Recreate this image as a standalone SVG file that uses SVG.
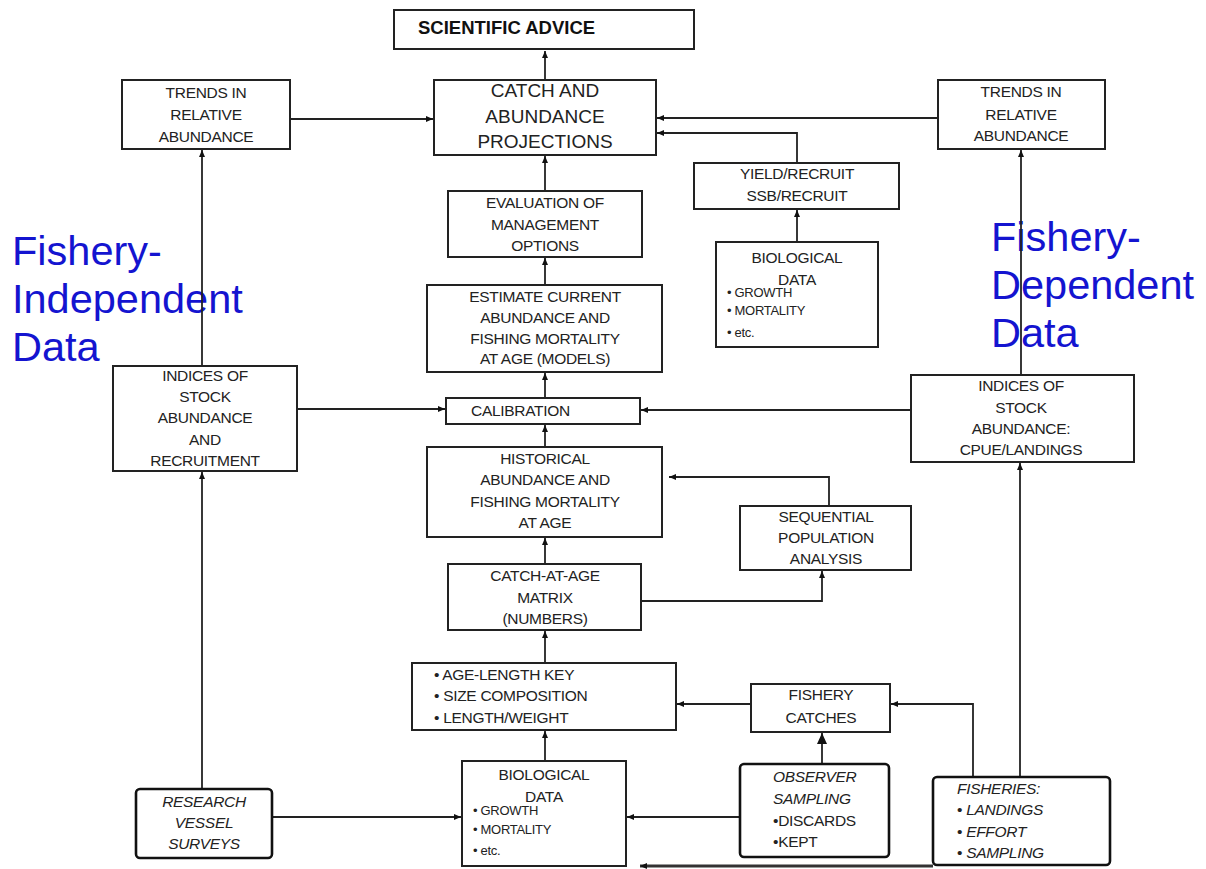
<svg xmlns="http://www.w3.org/2000/svg" width="1206" height="869" viewBox="0 0 1206 869">
<defs>
<style>
.box{fill:#fff;stroke:#222;stroke-width:2}
.rbox{fill:#fff;stroke:#111;stroke-width:2.6}
.t{font-family:"Liberation Sans",Arial,sans-serif;font-size:15.5px;fill:#222;text-anchor:middle;letter-spacing:-0.3px}
.tl{font-family:"Liberation Sans",Arial,sans-serif;font-size:15.5px;fill:#222;letter-spacing:-0.3px}
.big{font-family:"Liberation Sans",Arial,sans-serif;font-size:19px;fill:#222;text-anchor:middle}
.sm{font-family:"Liberation Sans",Arial,sans-serif;font-size:13px;fill:#222;letter-spacing:-0.3px}
.it{font-style:italic}
.blue{font-family:"Liberation Sans",Arial,sans-serif;font-size:41.5px;fill:#1414d0}
.c{fill:none;stroke:#222;stroke-width:1.8}
</style>
<marker id="a" markerUnits="userSpaceOnUse" markerWidth="7" markerHeight="6" refX="7" refY="3" orient="auto"><path d="M0,0 L7,3 L0,6 z" fill="#111"/></marker>
<marker id="ab" markerUnits="userSpaceOnUse" markerWidth="11" markerHeight="10" refX="11" refY="5" orient="auto"><path d="M0,0 L11,5 L0,10 z" fill="#111"/></marker>
</defs>
<rect width="1206" height="869" fill="#fff"/>

<g id="labels">
<text class="blue" x="12" y="265">Fishery-</text>
<text class="blue" x="12" y="313">Independent</text>
<text class="blue" x="12" y="361">Data</text>
<text class="blue" x="991" y="251">Fishery-</text>
<text class="blue" x="991" y="299">Dependent</text>
<text class="blue" x="991" y="347">Data</text>
</g>

<g id="connectors">
<path class="c" d="M545,80 V51" marker-end="url(#a)"/>
<path class="c" d="M290,119 H433" marker-end="url(#a)"/>
<path class="c" d="M938,118 H657" marker-end="url(#a)"/>
<path class="c" d="M797,163 V133 H657" marker-end="url(#a)"/>
<path class="c" d="M797,242 V210" marker-end="url(#a)"/>
<path class="c" d="M545,191 V156" marker-end="url(#a)"/>
<path class="c" d="M545,285 V258" marker-end="url(#a)"/>
<path class="c" d="M545,398 V373" marker-end="url(#a)"/>
<path class="c" d="M545,447 V425" marker-end="url(#a)"/>
<path class="c" d="M545,564 V538" marker-end="url(#a)"/>
<path class="c" d="M545,663 V631" marker-end="url(#a)"/>
<path class="c" d="M545,761 V731" marker-end="url(#a)"/>
<path class="c" d="M641,601 H822 V571" marker-end="url(#a)"/>
<path class="c" d="M829,506 V477 H669" marker-end="url(#a)"/>
<path class="c" d="M202,366 V150" marker-end="url(#a)"/>
<path class="c" d="M297,409 H445" marker-end="url(#a)"/>
<path class="c" d="M911,410 H641" marker-end="url(#a)"/>
<path class="c" d="M1021,375 V150" marker-end="url(#a)"/>
<path class="c" d="M202,789 V472" marker-end="url(#a)"/>
<path class="c" d="M272,817 H461" marker-end="url(#a)"/>
<path class="c" d="M740,817 H627" marker-end="url(#a)"/>
<path class="c" d="M822,764 V733" marker-end="url(#ab)"/>
<path class="c" d="M751,704 H677" marker-end="url(#a)"/>
<path class="c" d="M973,777 V704 H891" marker-end="url(#a)"/>
<path class="c" d="M1020,777 V463" marker-end="url(#a)"/>
<path class="c" d="M933,866 H640" style="stroke:#333;stroke-width:3" marker-end="url(#a)"/>
</g>

<g id="scientific-advice">
<rect class="box" x="394" y="10" width="300" height="39"/>
<text x="418" y="34" style="font-family:'Liberation Sans',Arial,sans-serif;font-size:18.5px;font-weight:bold;fill:#111">SCIENTIFIC ADVICE</text>
</g>

<g id="catch-projections">
<rect class="box" x="434" y="80" width="222" height="75"/>
<text class="big" x="545" y="97">CATCH AND</text>
<text class="big" x="545" y="123">ABUNDANCE</text>
<text class="big" x="545" y="148">PROJECTIONS</text>
</g>

<g id="trends-left">
<rect class="box" x="122" y="80" width="168" height="69"/>
<text class="t" x="206" y="98">TRENDS IN</text>
<text class="t" x="206" y="120">RELATIVE</text>
<text class="t" x="206" y="142">ABUNDANCE</text>
</g>

<g id="trends-right">
<rect class="box" x="938" y="80" width="167" height="69"/>
<text class="t" x="1021" y="97">TRENDS IN</text>
<text class="t" x="1021" y="120">RELATIVE</text>
<text class="t" x="1021" y="141">ABUNDANCE</text>
</g>

<g id="evaluation">
<rect class="box" x="448" y="191" width="194" height="66"/>
<text class="t" x="545" y="208">EVALUATION OF</text>
<text class="t" x="545" y="230">MANAGEMENT</text>
<text class="t" x="545" y="251">OPTIONS</text>
</g>

<g id="yield-recruit">
<rect class="box" x="694" y="163" width="205" height="46"/>
<text class="t" x="797" y="179">YIELD/RECRUIT</text>
<text class="t" x="797" y="201">SSB/RECRUIT</text>
</g>

<g id="biological-top">
<rect class="box" x="716" y="242" width="162" height="105"/>
<text class="t" x="797" y="263">BIOLOGICAL</text>
<text class="t" x="797" y="285">DATA</text>
<text class="sm" x="727" y="297">• GROWTH</text>
<text class="sm" x="727" y="315">• MORTALITY</text>
<text class="sm" x="727" y="337">• etc.</text>
</g>

<g id="estimate-current">
<rect class="box" x="427" y="285" width="235" height="87"/>
<text class="t" x="545" y="302">ESTIMATE CURRENT</text>
<text class="t" x="545" y="323">ABUNDANCE AND</text>
<text class="t" x="545" y="344">FISHING MORTALITY</text>
<text class="t" x="545" y="364">AT AGE (MODELS)</text>
</g>

<g id="indices-left">
<rect class="box" x="113" y="366" width="184" height="105"/>
<text class="t" x="205" y="381">INDICES OF</text>
<text class="t" x="205" y="402">STOCK</text>
<text class="t" x="205" y="423">ABUNDANCE</text>
<text class="t" x="205" y="445">AND</text>
<text class="t" x="205" y="466">RECRUITMENT</text>
</g>

<g id="calibration">
<rect class="box" x="446" y="398" width="194" height="26"/>
<text class="tl" x="471" y="416">CALIBRATION</text>
</g>

<g id="indices-right">
<rect class="box" x="911" y="375" width="223" height="87"/>
<text class="t" x="1021" y="391">INDICES OF</text>
<text class="t" x="1021" y="413">STOCK</text>
<text class="t" x="1021" y="434">ABUNDANCE:</text>
<text class="t" x="1021" y="455">CPUE/LANDINGS</text>
</g>

<g id="historical">
<rect class="box" x="427" y="447" width="235" height="90"/>
<text class="t" x="545" y="464">HISTORICAL</text>
<text class="t" x="545" y="485">ABUNDANCE AND</text>
<text class="t" x="545" y="507">FISHING MORTALITY</text>
<text class="t" x="545" y="528">AT AGE</text>
</g>

<g id="sequential">
<rect class="box" x="740" y="506" width="171" height="64"/>
<text class="t" x="826" y="522">SEQUENTIAL</text>
<text class="t" x="826" y="543">POPULATION</text>
<text class="t" x="826" y="564">ANALYSIS</text>
</g>

<g id="catch-at-age">
<rect class="box" x="448" y="564" width="193" height="66"/>
<text class="t" x="545" y="581">CATCH-AT-AGE</text>
<text class="t" x="545" y="603">MATRIX</text>
<text class="t" x="545" y="624">(NUMBERS)</text>
</g>

<g id="age-length">
<rect class="box" x="412" y="663" width="264" height="67"/>
<text class="tl" x="434" y="680">• AGE-LENGTH KEY</text>
<text class="tl" x="434" y="701">• SIZE COMPOSITION</text>
<text class="tl" x="434" y="723">• LENGTH/WEIGHT</text>
</g>

<g id="fishery-catches">
<rect class="box" x="751" y="684" width="139" height="48"/>
<text class="t" x="821" y="700">FISHERY</text>
<text class="t" x="821" y="723">CATCHES</text>
</g>

<g id="biological-bottom">
<rect class="box" x="462" y="761" width="164" height="105"/>
<text class="t" x="544" y="780">BIOLOGICAL</text>
<text class="t" x="544" y="802">DATA</text>
<text class="sm" x="473" y="815">• GROWTH</text>
<text class="sm" x="473" y="834">• MORTALITY</text>
<text class="sm" x="473" y="855">• etc.</text>
</g>

<g id="research-vessel">
<rect class="rbox" x="136" y="789" width="136" height="69" rx="4"/>
<text class="t it" x="204" y="807">RESEARCH</text>
<text class="t it" x="204" y="828">VESSEL</text>
<text class="t it" x="204" y="849">SURVEYS</text>
</g>

<g id="observer">
<rect class="rbox" x="740" y="764" width="149" height="93" rx="4"/>
<text class="tl it" x="773" y="782">OBSERVER</text>
<text class="tl it" x="773" y="804">SAMPLING</text>
<text class="tl" x="773" y="826">•DISCARDS</text>
<text class="tl" x="773" y="847">•KEPT</text>
</g>

<g id="fisheries">
<rect class="rbox" x="933" y="777" width="177" height="88" rx="4"/>
<text class="tl it" x="957" y="794">FISHERIES:</text>
<text class="tl" x="957" y="815">• <tspan font-style="italic">LANDINGS</tspan></text>
<text class="tl" x="957" y="837">• <tspan font-style="italic">EFFORT</tspan></text>
<text class="tl" x="957" y="858">• <tspan font-style="italic">SAMPLING</tspan></text>
</g>
</svg>
